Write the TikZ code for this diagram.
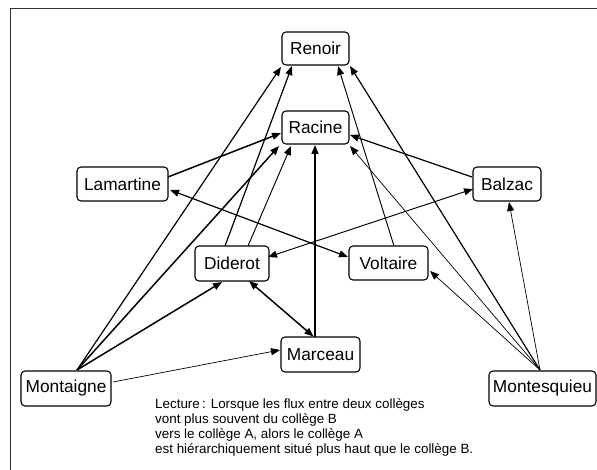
\documentclass[tikz,border=0pt]{standalone}
\usepackage{fontspec}
\setmainfont{Liberation Sans}
\usetikzlibrary{arrows.meta,calc}
\begin{document}
\begin{tikzpicture}[x=1pt,y=-1pt,
  coll/.style={draw, line width=1.1pt, rounded corners=4pt, minimum height=34pt,
    inner sep=0pt, font=\fontsize{17.3}{20}\selectfont},
  tipA/.style={-{Triangle[length=9pt,width=7pt]}},
  tipB/.style={{Triangle[length=9pt,width=7pt]}-{Triangle[length=9pt,width=7pt]}},
  wthick/.style={line width=1.5pt},
  wmed/.style={line width=1.2pt},
  wlight/.style={line width=0.95pt},
  wthin/.style={line width=0.7pt},
]
\useasboundingbox (0,0) rectangle (597,470);
\draw[line width=1.5pt, draw=black!80] (10.5,470) -- (10.5,8.5) -- (597,8.5);

% nodes
\node[coll, minimum width=67pt, minimum height=33pt] (Renoir) at (315.5,48.5) {Renoir};
\node[coll, minimum width=67pt, minimum height=33pt] (Racine) at (315.5,127.5) {Racine};
\node[coll, minimum width=91pt] (Lamartine) at (122.5,184) {Lamartine};
\node[coll, minimum width=68pt] (Balzac) at (507,184) {Balzac};
\node[coll, minimum width=74pt, minimum height=35pt] (Diderot) at (232,263.5) {Diderot};
\node[coll, minimum width=79pt] (Voltaire) at (388.5,263) {Voltaire};
\node[coll, minimum width=79pt, minimum height=35pt] (Marceau) at (320.5,354.5) {Marceau};
\node[coll, minimum width=90pt, minimum height=35pt] (Montaigne) at (66,388.5) {Montaigne};
\node[coll, minimum width=107pt, minimum height=35pt] (Montesquieu) at (542.5,388.5) {Montesquieu};

\node[anchor=north west, align=left, inner sep=0pt, font=\fontsize{13.4}{15}\selectfont] (lecture) at (155,398.8)
  {Lecture\,: Lorsque les flux entre deux collèges\\vont plus souvent du collège B\\vers le collège A, alors le collège A\\est hiérarchiquement situé plus haut que le collège B.};

% edges from Montaigne
\draw[tipA, wmed]   ($(Montaigne.center)+(11,-18.5)$) -- ($(Renoir.center)+(-34.5,18.5)$);
\draw[tipA, wthick] ($(Montaigne.center)+(11,-18.5)$) -- ($(Racine.center)+(-36.5,18.5)$);
\draw[tipA, wthick] ($(Montaigne.center)+(11,-18.5)$) -- ($(Diderot.center)+(-10,18.5)$);
\draw[tipA, wthin]  ($(Montaigne.center)+(47,-6.5)$) -- ($(Marceau.center)+(-40.5,-4.5)$);

% edges from Diderot
\draw[tipA, wmed]   ($(Diderot.center)+(-7,-17.5)$) -- ($(Renoir.center)+(-23.5,17.5)$);
\draw[tipA, wlight] ($(Diderot.center)+(16,-17.5)$) -- ($(Racine.center)+(-24.5,18.5)$);
\draw[tipB, wlight] ($(Diderot.center)+(36,-6.5)$) -- ($(Balzac.center)+(-34,5)$);
\draw[tipB, wthick] ($(Diderot.center)+(17,17.5)$) -- ($(Marceau.center)+(-7,-18)$);

% Lamartine
\draw[tipA, wthick] ($(Lamartine.center)+(45.5,-7)$) -- ($(Racine.center)+(-34.5,5.5)$);
\draw[tipB, wmed]   ($(Lamartine.center)+(47.5,6)$) -- ($(Voltaire.center)+(-40.5,-6)$);

% Marceau
\draw[tipA, wthick] ($(Marceau.center)+(-5.5,-17.5)$) -- ($(Racine.center)+(-0.5,17.5)$);

% Balzac
\draw[tipA, wmed]   ($(Balzac.center)+(-35,-7)$) -- ($(Racine.center)+(34.5,7.5)$);

% Voltaire
\draw[tipA, wlight] ($(Voltaire.center)+(5.5,-17)$) -- ($(Renoir.center)+(22.5,17.5)$);

% Montesquieu
\draw[tipA, wmed]   ($(Montesquieu.center)+(-2.5,-18.5)$) -- ($(Renoir.center)+(34.5,17.5)$);
\draw[tipA, wthin]  ($(Montesquieu.center)+(-2.5,-18.5)$) -- ($(Racine.center)+(34.5,18.5)$);
\draw[tipA, wthin]  ($(Montesquieu.center)+(-2.5,-18.5)$) -- ($(Voltaire.center)+(41.5,8)$);
\draw[tipA, wthin]  ($(Montesquieu.center)+(-2.5,-18.5)$) -- ($(Balzac.center)+(2,18)$);
\end{tikzpicture}
\end{document}
